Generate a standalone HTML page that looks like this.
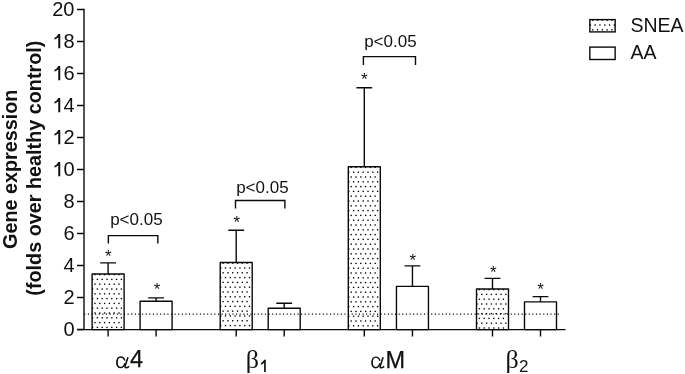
<!DOCTYPE html>
<html><head><meta charset="utf-8"><style>
html,body{margin:0;padding:0;background:#fff;}
body{width:685px;height:374px;overflow:hidden;}
svg{display:block;will-change:transform;}
text{font-family:"Liberation Sans",sans-serif;fill:#111;}
.yl{font-size:20px;}
.st{font-size:17px;}
.pv{font-size:17px;}
.lg{font-size:19.5px;}
.xs{font-size:23.5px;stroke:#111;stroke-width:0.25px;}
.gr{font-family:"Liberation Serif",serif;font-size:26px;}
.sb{font-size:17px;}
.yt{font-size:20px;font-weight:bold;}
</style></head><body>
<svg width="685" height="374" viewBox="0 0 685 374">
<rect x="92.1" y="274.00" width="32" height="55.60" fill="#fff"/>
<g fill="#000"><rect x="94.33" y="273.93" width="1.35" height="1.35"/><rect x="99.12" y="273.93" width="1.35" height="1.35"/><rect x="103.92" y="273.93" width="1.35" height="1.35"/><rect x="108.72" y="273.93" width="1.35" height="1.35"/><rect x="113.52" y="273.93" width="1.35" height="1.35"/><rect x="118.32" y="273.93" width="1.35" height="1.35"/><rect x="91.92" y="278.73" width="1.35" height="1.35"/><rect x="96.72" y="278.73" width="1.35" height="1.35"/><rect x="101.52" y="278.73" width="1.35" height="1.35"/><rect x="106.32" y="278.73" width="1.35" height="1.35"/><rect x="111.12" y="278.73" width="1.35" height="1.35"/><rect x="115.92" y="278.73" width="1.35" height="1.35"/><rect x="120.72" y="278.73" width="1.35" height="1.35"/><rect x="94.33" y="283.53" width="1.35" height="1.35"/><rect x="99.12" y="283.53" width="1.35" height="1.35"/><rect x="103.92" y="283.53" width="1.35" height="1.35"/><rect x="108.72" y="283.53" width="1.35" height="1.35"/><rect x="113.52" y="283.53" width="1.35" height="1.35"/><rect x="118.32" y="283.53" width="1.35" height="1.35"/><rect x="91.92" y="288.33" width="1.35" height="1.35"/><rect x="96.72" y="288.33" width="1.35" height="1.35"/><rect x="101.52" y="288.33" width="1.35" height="1.35"/><rect x="106.32" y="288.33" width="1.35" height="1.35"/><rect x="111.12" y="288.33" width="1.35" height="1.35"/><rect x="115.92" y="288.33" width="1.35" height="1.35"/><rect x="120.72" y="288.33" width="1.35" height="1.35"/><rect x="94.33" y="293.13" width="1.35" height="1.35"/><rect x="99.12" y="293.13" width="1.35" height="1.35"/><rect x="103.92" y="293.13" width="1.35" height="1.35"/><rect x="108.72" y="293.13" width="1.35" height="1.35"/><rect x="113.52" y="293.13" width="1.35" height="1.35"/><rect x="118.32" y="293.13" width="1.35" height="1.35"/><rect x="91.92" y="297.93" width="1.35" height="1.35"/><rect x="96.72" y="297.93" width="1.35" height="1.35"/><rect x="101.52" y="297.93" width="1.35" height="1.35"/><rect x="106.32" y="297.93" width="1.35" height="1.35"/><rect x="111.12" y="297.93" width="1.35" height="1.35"/><rect x="115.92" y="297.93" width="1.35" height="1.35"/><rect x="120.72" y="297.93" width="1.35" height="1.35"/><rect x="94.33" y="302.73" width="1.35" height="1.35"/><rect x="99.12" y="302.73" width="1.35" height="1.35"/><rect x="103.92" y="302.73" width="1.35" height="1.35"/><rect x="108.72" y="302.73" width="1.35" height="1.35"/><rect x="113.52" y="302.73" width="1.35" height="1.35"/><rect x="118.32" y="302.73" width="1.35" height="1.35"/><rect x="91.92" y="307.53" width="1.35" height="1.35"/><rect x="96.72" y="307.53" width="1.35" height="1.35"/><rect x="101.52" y="307.53" width="1.35" height="1.35"/><rect x="106.32" y="307.53" width="1.35" height="1.35"/><rect x="111.12" y="307.53" width="1.35" height="1.35"/><rect x="115.92" y="307.53" width="1.35" height="1.35"/><rect x="120.72" y="307.53" width="1.35" height="1.35"/><rect x="94.33" y="312.33" width="1.35" height="1.35"/><rect x="99.12" y="312.33" width="1.35" height="1.35"/><rect x="103.92" y="312.33" width="1.35" height="1.35"/><rect x="108.72" y="312.33" width="1.35" height="1.35"/><rect x="113.52" y="312.33" width="1.35" height="1.35"/><rect x="118.32" y="312.33" width="1.35" height="1.35"/><rect x="91.92" y="317.13" width="1.35" height="1.35"/><rect x="96.72" y="317.13" width="1.35" height="1.35"/><rect x="101.52" y="317.13" width="1.35" height="1.35"/><rect x="106.32" y="317.13" width="1.35" height="1.35"/><rect x="111.12" y="317.13" width="1.35" height="1.35"/><rect x="115.92" y="317.13" width="1.35" height="1.35"/><rect x="120.72" y="317.13" width="1.35" height="1.35"/><rect x="94.33" y="321.93" width="1.35" height="1.35"/><rect x="99.12" y="321.93" width="1.35" height="1.35"/><rect x="103.92" y="321.93" width="1.35" height="1.35"/><rect x="108.72" y="321.93" width="1.35" height="1.35"/><rect x="113.52" y="321.93" width="1.35" height="1.35"/><rect x="118.32" y="321.93" width="1.35" height="1.35"/><rect x="91.92" y="326.73" width="1.35" height="1.35"/><rect x="96.72" y="326.73" width="1.35" height="1.35"/><rect x="101.52" y="326.73" width="1.35" height="1.35"/><rect x="106.32" y="326.73" width="1.35" height="1.35"/><rect x="111.12" y="326.73" width="1.35" height="1.35"/><rect x="115.92" y="326.73" width="1.35" height="1.35"/><rect x="120.72" y="326.73" width="1.35" height="1.35"/></g>
<rect x="92.1" y="274.00" width="32" height="55.60" fill="none" stroke="#0a0a0a" stroke-width="1.4" stroke-linejoin="round"/>
<path d="M108.1 274.00V262.90M100.19999999999999 262.90H116.0" stroke="#0a0a0a" stroke-width="1.4" fill="none"/>
<path d="M108.1 329.6V336.5" stroke="#0a0a0a" stroke-width="1.4"/>
<rect x="140.1" y="301.20" width="32" height="28.40" fill="#fff"/>
<rect x="140.1" y="301.20" width="32" height="28.40" fill="none" stroke="#0a0a0a" stroke-width="1.4" stroke-linejoin="round"/>
<path d="M156.1 301.20V297.90M148.2 297.90H164.0" stroke="#0a0a0a" stroke-width="1.4" fill="none"/>
<path d="M156.1 329.6V336.5" stroke="#0a0a0a" stroke-width="1.4"/>
<rect x="220.2" y="262.55" width="32" height="67.05" fill="#fff"/>
<g fill="#000"><rect x="222.42" y="262.48" width="1.35" height="1.35"/><rect x="227.22" y="262.48" width="1.35" height="1.35"/><rect x="232.03" y="262.48" width="1.35" height="1.35"/><rect x="236.83" y="262.48" width="1.35" height="1.35"/><rect x="241.63" y="262.48" width="1.35" height="1.35"/><rect x="246.43" y="262.48" width="1.35" height="1.35"/><rect x="220.02" y="267.28" width="1.35" height="1.35"/><rect x="224.82" y="267.28" width="1.35" height="1.35"/><rect x="229.62" y="267.28" width="1.35" height="1.35"/><rect x="234.43" y="267.28" width="1.35" height="1.35"/><rect x="239.23" y="267.28" width="1.35" height="1.35"/><rect x="244.03" y="267.28" width="1.35" height="1.35"/><rect x="248.83" y="267.28" width="1.35" height="1.35"/><rect x="222.42" y="272.08" width="1.35" height="1.35"/><rect x="227.22" y="272.08" width="1.35" height="1.35"/><rect x="232.03" y="272.08" width="1.35" height="1.35"/><rect x="236.83" y="272.08" width="1.35" height="1.35"/><rect x="241.63" y="272.08" width="1.35" height="1.35"/><rect x="246.43" y="272.08" width="1.35" height="1.35"/><rect x="220.02" y="276.88" width="1.35" height="1.35"/><rect x="224.82" y="276.88" width="1.35" height="1.35"/><rect x="229.62" y="276.88" width="1.35" height="1.35"/><rect x="234.43" y="276.88" width="1.35" height="1.35"/><rect x="239.23" y="276.88" width="1.35" height="1.35"/><rect x="244.03" y="276.88" width="1.35" height="1.35"/><rect x="248.83" y="276.88" width="1.35" height="1.35"/><rect x="222.42" y="281.68" width="1.35" height="1.35"/><rect x="227.22" y="281.68" width="1.35" height="1.35"/><rect x="232.03" y="281.68" width="1.35" height="1.35"/><rect x="236.83" y="281.68" width="1.35" height="1.35"/><rect x="241.63" y="281.68" width="1.35" height="1.35"/><rect x="246.43" y="281.68" width="1.35" height="1.35"/><rect x="220.02" y="286.48" width="1.35" height="1.35"/><rect x="224.82" y="286.48" width="1.35" height="1.35"/><rect x="229.62" y="286.48" width="1.35" height="1.35"/><rect x="234.43" y="286.48" width="1.35" height="1.35"/><rect x="239.23" y="286.48" width="1.35" height="1.35"/><rect x="244.03" y="286.48" width="1.35" height="1.35"/><rect x="248.83" y="286.48" width="1.35" height="1.35"/><rect x="222.42" y="291.28" width="1.35" height="1.35"/><rect x="227.22" y="291.28" width="1.35" height="1.35"/><rect x="232.03" y="291.28" width="1.35" height="1.35"/><rect x="236.83" y="291.28" width="1.35" height="1.35"/><rect x="241.63" y="291.28" width="1.35" height="1.35"/><rect x="246.43" y="291.28" width="1.35" height="1.35"/><rect x="220.02" y="296.08" width="1.35" height="1.35"/><rect x="224.82" y="296.08" width="1.35" height="1.35"/><rect x="229.62" y="296.08" width="1.35" height="1.35"/><rect x="234.43" y="296.08" width="1.35" height="1.35"/><rect x="239.23" y="296.08" width="1.35" height="1.35"/><rect x="244.03" y="296.08" width="1.35" height="1.35"/><rect x="248.83" y="296.08" width="1.35" height="1.35"/><rect x="222.42" y="300.88" width="1.35" height="1.35"/><rect x="227.22" y="300.88" width="1.35" height="1.35"/><rect x="232.03" y="300.88" width="1.35" height="1.35"/><rect x="236.83" y="300.88" width="1.35" height="1.35"/><rect x="241.63" y="300.88" width="1.35" height="1.35"/><rect x="246.43" y="300.88" width="1.35" height="1.35"/><rect x="220.02" y="305.68" width="1.35" height="1.35"/><rect x="224.82" y="305.68" width="1.35" height="1.35"/><rect x="229.62" y="305.68" width="1.35" height="1.35"/><rect x="234.43" y="305.68" width="1.35" height="1.35"/><rect x="239.23" y="305.68" width="1.35" height="1.35"/><rect x="244.03" y="305.68" width="1.35" height="1.35"/><rect x="248.83" y="305.68" width="1.35" height="1.35"/><rect x="222.42" y="310.48" width="1.35" height="1.35"/><rect x="227.22" y="310.48" width="1.35" height="1.35"/><rect x="232.03" y="310.48" width="1.35" height="1.35"/><rect x="236.83" y="310.48" width="1.35" height="1.35"/><rect x="241.63" y="310.48" width="1.35" height="1.35"/><rect x="246.43" y="310.48" width="1.35" height="1.35"/><rect x="220.02" y="315.28" width="1.35" height="1.35"/><rect x="224.82" y="315.28" width="1.35" height="1.35"/><rect x="229.62" y="315.28" width="1.35" height="1.35"/><rect x="234.43" y="315.28" width="1.35" height="1.35"/><rect x="239.23" y="315.28" width="1.35" height="1.35"/><rect x="244.03" y="315.28" width="1.35" height="1.35"/><rect x="248.83" y="315.28" width="1.35" height="1.35"/><rect x="222.42" y="320.08" width="1.35" height="1.35"/><rect x="227.22" y="320.08" width="1.35" height="1.35"/><rect x="232.03" y="320.08" width="1.35" height="1.35"/><rect x="236.83" y="320.08" width="1.35" height="1.35"/><rect x="241.63" y="320.08" width="1.35" height="1.35"/><rect x="246.43" y="320.08" width="1.35" height="1.35"/><rect x="220.02" y="324.88" width="1.35" height="1.35"/><rect x="224.82" y="324.88" width="1.35" height="1.35"/><rect x="229.62" y="324.88" width="1.35" height="1.35"/><rect x="234.43" y="324.88" width="1.35" height="1.35"/><rect x="239.23" y="324.88" width="1.35" height="1.35"/><rect x="244.03" y="324.88" width="1.35" height="1.35"/><rect x="248.83" y="324.88" width="1.35" height="1.35"/></g>
<rect x="220.2" y="262.55" width="32" height="67.05" fill="none" stroke="#0a0a0a" stroke-width="1.4" stroke-linejoin="round"/>
<path d="M236.2 262.55V230.30M228.29999999999998 230.30H244.1" stroke="#0a0a0a" stroke-width="1.4" fill="none"/>
<path d="M236.2 329.6V336.5" stroke="#0a0a0a" stroke-width="1.4"/>
<rect x="268.2" y="308.30" width="32" height="21.30" fill="#fff"/>
<rect x="268.2" y="308.30" width="32" height="21.30" fill="none" stroke="#0a0a0a" stroke-width="1.4" stroke-linejoin="round"/>
<path d="M284.2 308.30V303.20M276.3 303.20H292.09999999999997" stroke="#0a0a0a" stroke-width="1.4" fill="none"/>
<path d="M284.2 329.6V336.5" stroke="#0a0a0a" stroke-width="1.4"/>
<rect x="348.3" y="166.80" width="32" height="162.80" fill="#fff"/>
<g fill="#000"><rect x="350.52" y="166.72" width="1.35" height="1.35"/><rect x="355.32" y="166.72" width="1.35" height="1.35"/><rect x="360.12" y="166.72" width="1.35" height="1.35"/><rect x="364.93" y="166.72" width="1.35" height="1.35"/><rect x="369.73" y="166.72" width="1.35" height="1.35"/><rect x="374.53" y="166.72" width="1.35" height="1.35"/><rect x="348.12" y="171.53" width="1.35" height="1.35"/><rect x="352.93" y="171.53" width="1.35" height="1.35"/><rect x="357.73" y="171.53" width="1.35" height="1.35"/><rect x="362.53" y="171.53" width="1.35" height="1.35"/><rect x="367.33" y="171.53" width="1.35" height="1.35"/><rect x="372.13" y="171.53" width="1.35" height="1.35"/><rect x="376.93" y="171.53" width="1.35" height="1.35"/><rect x="350.52" y="176.33" width="1.35" height="1.35"/><rect x="355.32" y="176.33" width="1.35" height="1.35"/><rect x="360.12" y="176.33" width="1.35" height="1.35"/><rect x="364.93" y="176.33" width="1.35" height="1.35"/><rect x="369.73" y="176.33" width="1.35" height="1.35"/><rect x="374.53" y="176.33" width="1.35" height="1.35"/><rect x="348.12" y="181.13" width="1.35" height="1.35"/><rect x="352.93" y="181.13" width="1.35" height="1.35"/><rect x="357.73" y="181.13" width="1.35" height="1.35"/><rect x="362.53" y="181.13" width="1.35" height="1.35"/><rect x="367.33" y="181.13" width="1.35" height="1.35"/><rect x="372.13" y="181.13" width="1.35" height="1.35"/><rect x="376.93" y="181.13" width="1.35" height="1.35"/><rect x="350.52" y="185.93" width="1.35" height="1.35"/><rect x="355.32" y="185.93" width="1.35" height="1.35"/><rect x="360.12" y="185.93" width="1.35" height="1.35"/><rect x="364.93" y="185.93" width="1.35" height="1.35"/><rect x="369.73" y="185.93" width="1.35" height="1.35"/><rect x="374.53" y="185.93" width="1.35" height="1.35"/><rect x="348.12" y="190.73" width="1.35" height="1.35"/><rect x="352.93" y="190.73" width="1.35" height="1.35"/><rect x="357.73" y="190.73" width="1.35" height="1.35"/><rect x="362.53" y="190.73" width="1.35" height="1.35"/><rect x="367.33" y="190.73" width="1.35" height="1.35"/><rect x="372.13" y="190.73" width="1.35" height="1.35"/><rect x="376.93" y="190.73" width="1.35" height="1.35"/><rect x="350.52" y="195.53" width="1.35" height="1.35"/><rect x="355.32" y="195.53" width="1.35" height="1.35"/><rect x="360.12" y="195.53" width="1.35" height="1.35"/><rect x="364.93" y="195.53" width="1.35" height="1.35"/><rect x="369.73" y="195.53" width="1.35" height="1.35"/><rect x="374.53" y="195.53" width="1.35" height="1.35"/><rect x="348.12" y="200.33" width="1.35" height="1.35"/><rect x="352.93" y="200.33" width="1.35" height="1.35"/><rect x="357.73" y="200.33" width="1.35" height="1.35"/><rect x="362.53" y="200.33" width="1.35" height="1.35"/><rect x="367.33" y="200.33" width="1.35" height="1.35"/><rect x="372.13" y="200.33" width="1.35" height="1.35"/><rect x="376.93" y="200.33" width="1.35" height="1.35"/><rect x="350.52" y="205.13" width="1.35" height="1.35"/><rect x="355.32" y="205.13" width="1.35" height="1.35"/><rect x="360.12" y="205.13" width="1.35" height="1.35"/><rect x="364.93" y="205.13" width="1.35" height="1.35"/><rect x="369.73" y="205.13" width="1.35" height="1.35"/><rect x="374.53" y="205.13" width="1.35" height="1.35"/><rect x="348.12" y="209.93" width="1.35" height="1.35"/><rect x="352.93" y="209.93" width="1.35" height="1.35"/><rect x="357.73" y="209.93" width="1.35" height="1.35"/><rect x="362.53" y="209.93" width="1.35" height="1.35"/><rect x="367.33" y="209.93" width="1.35" height="1.35"/><rect x="372.13" y="209.93" width="1.35" height="1.35"/><rect x="376.93" y="209.93" width="1.35" height="1.35"/><rect x="350.52" y="214.73" width="1.35" height="1.35"/><rect x="355.32" y="214.73" width="1.35" height="1.35"/><rect x="360.12" y="214.73" width="1.35" height="1.35"/><rect x="364.93" y="214.73" width="1.35" height="1.35"/><rect x="369.73" y="214.73" width="1.35" height="1.35"/><rect x="374.53" y="214.73" width="1.35" height="1.35"/><rect x="348.12" y="219.53" width="1.35" height="1.35"/><rect x="352.93" y="219.53" width="1.35" height="1.35"/><rect x="357.73" y="219.53" width="1.35" height="1.35"/><rect x="362.53" y="219.53" width="1.35" height="1.35"/><rect x="367.33" y="219.53" width="1.35" height="1.35"/><rect x="372.13" y="219.53" width="1.35" height="1.35"/><rect x="376.93" y="219.53" width="1.35" height="1.35"/><rect x="350.52" y="224.33" width="1.35" height="1.35"/><rect x="355.32" y="224.33" width="1.35" height="1.35"/><rect x="360.12" y="224.33" width="1.35" height="1.35"/><rect x="364.93" y="224.33" width="1.35" height="1.35"/><rect x="369.73" y="224.33" width="1.35" height="1.35"/><rect x="374.53" y="224.33" width="1.35" height="1.35"/><rect x="348.12" y="229.13" width="1.35" height="1.35"/><rect x="352.93" y="229.13" width="1.35" height="1.35"/><rect x="357.73" y="229.13" width="1.35" height="1.35"/><rect x="362.53" y="229.13" width="1.35" height="1.35"/><rect x="367.33" y="229.13" width="1.35" height="1.35"/><rect x="372.13" y="229.13" width="1.35" height="1.35"/><rect x="376.93" y="229.13" width="1.35" height="1.35"/><rect x="350.52" y="233.93" width="1.35" height="1.35"/><rect x="355.32" y="233.93" width="1.35" height="1.35"/><rect x="360.12" y="233.93" width="1.35" height="1.35"/><rect x="364.93" y="233.93" width="1.35" height="1.35"/><rect x="369.73" y="233.93" width="1.35" height="1.35"/><rect x="374.53" y="233.93" width="1.35" height="1.35"/><rect x="348.12" y="238.73" width="1.35" height="1.35"/><rect x="352.93" y="238.73" width="1.35" height="1.35"/><rect x="357.73" y="238.73" width="1.35" height="1.35"/><rect x="362.53" y="238.73" width="1.35" height="1.35"/><rect x="367.33" y="238.73" width="1.35" height="1.35"/><rect x="372.13" y="238.73" width="1.35" height="1.35"/><rect x="376.93" y="238.73" width="1.35" height="1.35"/><rect x="350.52" y="243.53" width="1.35" height="1.35"/><rect x="355.32" y="243.53" width="1.35" height="1.35"/><rect x="360.12" y="243.53" width="1.35" height="1.35"/><rect x="364.93" y="243.53" width="1.35" height="1.35"/><rect x="369.73" y="243.53" width="1.35" height="1.35"/><rect x="374.53" y="243.53" width="1.35" height="1.35"/><rect x="348.12" y="248.33" width="1.35" height="1.35"/><rect x="352.93" y="248.33" width="1.35" height="1.35"/><rect x="357.73" y="248.33" width="1.35" height="1.35"/><rect x="362.53" y="248.33" width="1.35" height="1.35"/><rect x="367.33" y="248.33" width="1.35" height="1.35"/><rect x="372.13" y="248.33" width="1.35" height="1.35"/><rect x="376.93" y="248.33" width="1.35" height="1.35"/><rect x="350.52" y="253.13" width="1.35" height="1.35"/><rect x="355.32" y="253.13" width="1.35" height="1.35"/><rect x="360.12" y="253.13" width="1.35" height="1.35"/><rect x="364.93" y="253.13" width="1.35" height="1.35"/><rect x="369.73" y="253.13" width="1.35" height="1.35"/><rect x="374.53" y="253.13" width="1.35" height="1.35"/><rect x="348.12" y="257.93" width="1.35" height="1.35"/><rect x="352.93" y="257.93" width="1.35" height="1.35"/><rect x="357.73" y="257.93" width="1.35" height="1.35"/><rect x="362.53" y="257.93" width="1.35" height="1.35"/><rect x="367.33" y="257.93" width="1.35" height="1.35"/><rect x="372.13" y="257.93" width="1.35" height="1.35"/><rect x="376.93" y="257.93" width="1.35" height="1.35"/><rect x="350.52" y="262.73" width="1.35" height="1.35"/><rect x="355.32" y="262.73" width="1.35" height="1.35"/><rect x="360.12" y="262.73" width="1.35" height="1.35"/><rect x="364.93" y="262.73" width="1.35" height="1.35"/><rect x="369.73" y="262.73" width="1.35" height="1.35"/><rect x="374.53" y="262.73" width="1.35" height="1.35"/><rect x="348.12" y="267.53" width="1.35" height="1.35"/><rect x="352.93" y="267.53" width="1.35" height="1.35"/><rect x="357.73" y="267.53" width="1.35" height="1.35"/><rect x="362.53" y="267.53" width="1.35" height="1.35"/><rect x="367.33" y="267.53" width="1.35" height="1.35"/><rect x="372.13" y="267.53" width="1.35" height="1.35"/><rect x="376.93" y="267.53" width="1.35" height="1.35"/><rect x="350.52" y="272.33" width="1.35" height="1.35"/><rect x="355.32" y="272.33" width="1.35" height="1.35"/><rect x="360.12" y="272.33" width="1.35" height="1.35"/><rect x="364.93" y="272.33" width="1.35" height="1.35"/><rect x="369.73" y="272.33" width="1.35" height="1.35"/><rect x="374.53" y="272.33" width="1.35" height="1.35"/><rect x="348.12" y="277.13" width="1.35" height="1.35"/><rect x="352.93" y="277.13" width="1.35" height="1.35"/><rect x="357.73" y="277.13" width="1.35" height="1.35"/><rect x="362.53" y="277.13" width="1.35" height="1.35"/><rect x="367.33" y="277.13" width="1.35" height="1.35"/><rect x="372.13" y="277.13" width="1.35" height="1.35"/><rect x="376.93" y="277.13" width="1.35" height="1.35"/><rect x="350.52" y="281.93" width="1.35" height="1.35"/><rect x="355.32" y="281.93" width="1.35" height="1.35"/><rect x="360.12" y="281.93" width="1.35" height="1.35"/><rect x="364.93" y="281.93" width="1.35" height="1.35"/><rect x="369.73" y="281.93" width="1.35" height="1.35"/><rect x="374.53" y="281.93" width="1.35" height="1.35"/><rect x="348.12" y="286.73" width="1.35" height="1.35"/><rect x="352.93" y="286.73" width="1.35" height="1.35"/><rect x="357.73" y="286.73" width="1.35" height="1.35"/><rect x="362.53" y="286.73" width="1.35" height="1.35"/><rect x="367.33" y="286.73" width="1.35" height="1.35"/><rect x="372.13" y="286.73" width="1.35" height="1.35"/><rect x="376.93" y="286.73" width="1.35" height="1.35"/><rect x="350.52" y="291.53" width="1.35" height="1.35"/><rect x="355.32" y="291.53" width="1.35" height="1.35"/><rect x="360.12" y="291.53" width="1.35" height="1.35"/><rect x="364.93" y="291.53" width="1.35" height="1.35"/><rect x="369.73" y="291.53" width="1.35" height="1.35"/><rect x="374.53" y="291.53" width="1.35" height="1.35"/><rect x="348.12" y="296.33" width="1.35" height="1.35"/><rect x="352.93" y="296.33" width="1.35" height="1.35"/><rect x="357.73" y="296.33" width="1.35" height="1.35"/><rect x="362.53" y="296.33" width="1.35" height="1.35"/><rect x="367.33" y="296.33" width="1.35" height="1.35"/><rect x="372.13" y="296.33" width="1.35" height="1.35"/><rect x="376.93" y="296.33" width="1.35" height="1.35"/><rect x="350.52" y="301.13" width="1.35" height="1.35"/><rect x="355.32" y="301.13" width="1.35" height="1.35"/><rect x="360.12" y="301.13" width="1.35" height="1.35"/><rect x="364.93" y="301.13" width="1.35" height="1.35"/><rect x="369.73" y="301.13" width="1.35" height="1.35"/><rect x="374.53" y="301.13" width="1.35" height="1.35"/><rect x="348.12" y="305.93" width="1.35" height="1.35"/><rect x="352.93" y="305.93" width="1.35" height="1.35"/><rect x="357.73" y="305.93" width="1.35" height="1.35"/><rect x="362.53" y="305.93" width="1.35" height="1.35"/><rect x="367.33" y="305.93" width="1.35" height="1.35"/><rect x="372.13" y="305.93" width="1.35" height="1.35"/><rect x="376.93" y="305.93" width="1.35" height="1.35"/><rect x="350.52" y="310.73" width="1.35" height="1.35"/><rect x="355.32" y="310.73" width="1.35" height="1.35"/><rect x="360.12" y="310.73" width="1.35" height="1.35"/><rect x="364.93" y="310.73" width="1.35" height="1.35"/><rect x="369.73" y="310.73" width="1.35" height="1.35"/><rect x="374.53" y="310.73" width="1.35" height="1.35"/><rect x="348.12" y="315.53" width="1.35" height="1.35"/><rect x="352.93" y="315.53" width="1.35" height="1.35"/><rect x="357.73" y="315.53" width="1.35" height="1.35"/><rect x="362.53" y="315.53" width="1.35" height="1.35"/><rect x="367.33" y="315.53" width="1.35" height="1.35"/><rect x="372.13" y="315.53" width="1.35" height="1.35"/><rect x="376.93" y="315.53" width="1.35" height="1.35"/><rect x="350.52" y="320.33" width="1.35" height="1.35"/><rect x="355.32" y="320.33" width="1.35" height="1.35"/><rect x="360.12" y="320.33" width="1.35" height="1.35"/><rect x="364.93" y="320.33" width="1.35" height="1.35"/><rect x="369.73" y="320.33" width="1.35" height="1.35"/><rect x="374.53" y="320.33" width="1.35" height="1.35"/><rect x="348.12" y="325.13" width="1.35" height="1.35"/><rect x="352.93" y="325.13" width="1.35" height="1.35"/><rect x="357.73" y="325.13" width="1.35" height="1.35"/><rect x="362.53" y="325.13" width="1.35" height="1.35"/><rect x="367.33" y="325.13" width="1.35" height="1.35"/><rect x="372.13" y="325.13" width="1.35" height="1.35"/><rect x="376.93" y="325.13" width="1.35" height="1.35"/></g>
<rect x="348.3" y="166.80" width="32" height="162.80" fill="none" stroke="#0a0a0a" stroke-width="1.4" stroke-linejoin="round"/>
<path d="M364.3 166.80V87.75M356.40000000000003 87.75H372.2" stroke="#0a0a0a" stroke-width="1.4" fill="none"/>
<path d="M364.3 329.6V336.5" stroke="#0a0a0a" stroke-width="1.4"/>
<rect x="396.45" y="286.40" width="32" height="43.20" fill="#fff"/>
<rect x="396.45" y="286.40" width="32" height="43.20" fill="none" stroke="#0a0a0a" stroke-width="1.4" stroke-linejoin="round"/>
<path d="M412.45 286.40V265.85M404.55 265.85H420.34999999999997" stroke="#0a0a0a" stroke-width="1.4" fill="none"/>
<path d="M412.45 329.6V336.5" stroke="#0a0a0a" stroke-width="1.4"/>
<rect x="476.5" y="289.00" width="32" height="40.60" fill="#fff"/>
<g fill="#000"><rect x="478.72" y="288.93" width="1.35" height="1.35"/><rect x="483.52" y="288.93" width="1.35" height="1.35"/><rect x="488.32" y="288.93" width="1.35" height="1.35"/><rect x="493.12" y="288.93" width="1.35" height="1.35"/><rect x="497.93" y="288.93" width="1.35" height="1.35"/><rect x="502.73" y="288.93" width="1.35" height="1.35"/><rect x="476.32" y="293.73" width="1.35" height="1.35"/><rect x="481.12" y="293.73" width="1.35" height="1.35"/><rect x="485.93" y="293.73" width="1.35" height="1.35"/><rect x="490.73" y="293.73" width="1.35" height="1.35"/><rect x="495.53" y="293.73" width="1.35" height="1.35"/><rect x="500.33" y="293.73" width="1.35" height="1.35"/><rect x="505.13" y="293.73" width="1.35" height="1.35"/><rect x="478.72" y="298.53" width="1.35" height="1.35"/><rect x="483.52" y="298.53" width="1.35" height="1.35"/><rect x="488.32" y="298.53" width="1.35" height="1.35"/><rect x="493.12" y="298.53" width="1.35" height="1.35"/><rect x="497.93" y="298.53" width="1.35" height="1.35"/><rect x="502.73" y="298.53" width="1.35" height="1.35"/><rect x="476.32" y="303.33" width="1.35" height="1.35"/><rect x="481.12" y="303.33" width="1.35" height="1.35"/><rect x="485.93" y="303.33" width="1.35" height="1.35"/><rect x="490.73" y="303.33" width="1.35" height="1.35"/><rect x="495.53" y="303.33" width="1.35" height="1.35"/><rect x="500.33" y="303.33" width="1.35" height="1.35"/><rect x="505.13" y="303.33" width="1.35" height="1.35"/><rect x="478.72" y="308.13" width="1.35" height="1.35"/><rect x="483.52" y="308.13" width="1.35" height="1.35"/><rect x="488.32" y="308.13" width="1.35" height="1.35"/><rect x="493.12" y="308.13" width="1.35" height="1.35"/><rect x="497.93" y="308.13" width="1.35" height="1.35"/><rect x="502.73" y="308.13" width="1.35" height="1.35"/><rect x="476.32" y="312.93" width="1.35" height="1.35"/><rect x="481.12" y="312.93" width="1.35" height="1.35"/><rect x="485.93" y="312.93" width="1.35" height="1.35"/><rect x="490.73" y="312.93" width="1.35" height="1.35"/><rect x="495.53" y="312.93" width="1.35" height="1.35"/><rect x="500.33" y="312.93" width="1.35" height="1.35"/><rect x="505.13" y="312.93" width="1.35" height="1.35"/><rect x="478.72" y="317.73" width="1.35" height="1.35"/><rect x="483.52" y="317.73" width="1.35" height="1.35"/><rect x="488.32" y="317.73" width="1.35" height="1.35"/><rect x="493.12" y="317.73" width="1.35" height="1.35"/><rect x="497.93" y="317.73" width="1.35" height="1.35"/><rect x="502.73" y="317.73" width="1.35" height="1.35"/><rect x="476.32" y="322.53" width="1.35" height="1.35"/><rect x="481.12" y="322.53" width="1.35" height="1.35"/><rect x="485.93" y="322.53" width="1.35" height="1.35"/><rect x="490.73" y="322.53" width="1.35" height="1.35"/><rect x="495.53" y="322.53" width="1.35" height="1.35"/><rect x="500.33" y="322.53" width="1.35" height="1.35"/><rect x="505.13" y="322.53" width="1.35" height="1.35"/><rect x="478.72" y="327.33" width="1.35" height="1.35"/><rect x="483.52" y="327.33" width="1.35" height="1.35"/><rect x="488.32" y="327.33" width="1.35" height="1.35"/><rect x="493.12" y="327.33" width="1.35" height="1.35"/><rect x="497.93" y="327.33" width="1.35" height="1.35"/><rect x="502.73" y="327.33" width="1.35" height="1.35"/></g>
<rect x="476.5" y="289.00" width="32" height="40.60" fill="none" stroke="#0a0a0a" stroke-width="1.4" stroke-linejoin="round"/>
<path d="M492.5 289.00V278.40M484.6 278.40H500.4" stroke="#0a0a0a" stroke-width="1.4" fill="none"/>
<path d="M492.5 329.6V336.5" stroke="#0a0a0a" stroke-width="1.4"/>
<rect x="524.5" y="301.90" width="32" height="27.70" fill="#fff"/>
<rect x="524.5" y="301.90" width="32" height="27.70" fill="none" stroke="#0a0a0a" stroke-width="1.4" stroke-linejoin="round"/>
<path d="M540.5 301.90V296.65M532.6 296.65H548.4" stroke="#0a0a0a" stroke-width="1.4" fill="none"/>
<path d="M540.5 329.6V336.5" stroke="#0a0a0a" stroke-width="1.4"/>
<path d="M84.24 314.2H559.2" stroke="#000" stroke-width="1.2" stroke-dasharray="1.1 2.514" />
<path d="M84.0 8.8V329.6M77 329.6H565.5" stroke="#0a0a0a" stroke-width="1.4" fill="none" stroke-linejoin="round"/>
<path d="M77 329.50H84.0M77 297.50H84.0M77 265.50H84.0M77 233.50H84.0M77 201.50H84.0M77 169.50H84.0M77 137.50H84.0M77 105.50H84.0M77 73.50H84.0M77 41.50H84.0M77 9.50H84.0" stroke="#0a0a0a" stroke-width="1.4"/>
<text x="74.5" y="336.20" text-anchor="end" class="yl">0</text>
<text x="74.5" y="304.20" text-anchor="end" class="yl">2</text>
<text x="74.5" y="272.20" text-anchor="end" class="yl">4</text>
<text x="74.5" y="240.20" text-anchor="end" class="yl">6</text>
<text x="74.5" y="208.20" text-anchor="end" class="yl">8</text>
<text x="74.5" y="176.20" text-anchor="end" class="yl">0</text>
<path d="M58.26 161.88L60.26 161.88L60.26 176.20L58.26 176.20L58.26 165.20C57.26 166.40 55.66 167.20 54.46 167.60L54.46 165.80C56.06 165.10 57.46 163.80 58.26 161.88Z" fill="#111"/>
<text x="74.5" y="144.20" text-anchor="end" class="yl">2</text>
<path d="M58.26 129.88L60.26 129.88L60.26 144.20L58.26 144.20L58.26 133.20C57.26 134.40 55.66 135.20 54.46 135.60L54.46 133.80C56.06 133.10 57.46 131.80 58.26 129.88Z" fill="#111"/>
<text x="74.5" y="112.20" text-anchor="end" class="yl">4</text>
<path d="M58.26 97.88L60.26 97.88L60.26 112.20L58.26 112.20L58.26 101.20C57.26 102.40 55.66 103.20 54.46 103.60L54.46 101.80C56.06 101.10 57.46 99.80 58.26 97.88Z" fill="#111"/>
<text x="74.5" y="80.20" text-anchor="end" class="yl">6</text>
<path d="M58.26 65.88L60.26 65.88L60.26 80.20L58.26 80.20L58.26 69.20C57.26 70.40 55.66 71.20 54.46 71.60L54.46 69.80C56.06 69.10 57.46 67.80 58.26 65.88Z" fill="#111"/>
<text x="74.5" y="48.20" text-anchor="end" class="yl">8</text>
<path d="M58.26 33.88L60.26 33.88L60.26 48.20L58.26 48.20L58.26 37.20C57.26 38.40 55.66 39.20 54.46 39.60L54.46 37.80C56.06 37.10 57.46 35.80 58.26 33.88Z" fill="#111"/>
<text x="74.5" y="16.20" text-anchor="end" class="yl">20</text>
<text x="108.3" y="262.0" text-anchor="middle" class="st">*</text>
<text x="157.0" y="295.0" text-anchor="middle" class="st">*</text>
<text x="236.9" y="227.6" text-anchor="middle" class="st">*</text>
<text x="364.3" y="85.3" text-anchor="middle" class="st">*</text>
<text x="412.7" y="266.0" text-anchor="middle" class="st">*</text>
<text x="493.4" y="278.1" text-anchor="middle" class="st">*</text>
<text x="540.6" y="295.0" text-anchor="middle" class="st">*</text>
<path d="M108.35 243.4V235.6H157.85V243.4" stroke="#0a0a0a" stroke-width="1.4" fill="none"/>
<text x="136.4" y="225.1" text-anchor="middle" class="pv">p&lt;0.05</text>
<path d="M235.5 208.5V200.55H284.9V208.5" stroke="#0a0a0a" stroke-width="1.4" fill="none"/>
<text x="262.4" y="192.6" text-anchor="middle" class="pv">p&lt;0.05</text>
<path d="M363.4 65.0V56.6H415.5V65.0" stroke="#0a0a0a" stroke-width="1.4" fill="none"/>
<text x="390.4" y="47.1" text-anchor="middle" class="pv">p&lt;0.05</text>
<rect x="589.85" y="19.6" width="25.3" height="12.3" fill="#fff" stroke="#0a0a0a" stroke-width="1.4"/>
<g fill="#000"><rect x="592.08" y="19.53" width="1.35" height="1.35"/><rect x="596.88" y="19.53" width="1.35" height="1.35"/><rect x="601.67" y="19.53" width="1.35" height="1.35"/><rect x="606.47" y="19.53" width="1.35" height="1.35"/><rect x="611.27" y="19.53" width="1.35" height="1.35"/><rect x="589.68" y="24.33" width="1.35" height="1.35"/><rect x="594.48" y="24.33" width="1.35" height="1.35"/><rect x="599.27" y="24.33" width="1.35" height="1.35"/><rect x="604.07" y="24.33" width="1.35" height="1.35"/><rect x="608.87" y="24.33" width="1.35" height="1.35"/><rect x="613.67" y="24.33" width="1.35" height="1.35"/><rect x="592.08" y="29.13" width="1.35" height="1.35"/><rect x="596.88" y="29.13" width="1.35" height="1.35"/><rect x="601.67" y="29.13" width="1.35" height="1.35"/><rect x="606.47" y="29.13" width="1.35" height="1.35"/><rect x="611.27" y="29.13" width="1.35" height="1.35"/></g>
<rect x="589.85" y="47.1" width="25.3" height="12.4" fill="#fff" stroke="#0a0a0a" stroke-width="1.4"/>
<text x="630.5" y="32.2" class="lg">SNEA</text>
<text x="630.5" y="59.3" class="lg">AA</text>
<text x="130.0" y="367.1" class="xs">4</text>
<text x="245.8" y="367.5" class="gr">β</text>
<text x="385.6" y="367.5" class="xs">M</text>
<text x="505.6" y="367.5" class="gr">β</text>
<text x="519.0" y="372.2" class="sb">2</text>
<path d="M264.10 359.83L265.80 359.83L265.80 372.00L264.10 372.00L264.10 362.65C263.25 363.67 261.89 364.35 260.87 364.69L260.87 363.16C262.23 362.56 263.42 361.46 264.10 359.83Z" fill="#111"/>
<g transform="translate(116.1 356.4)" fill="none" stroke="#111"><path d="M8.7 4.2C7.9 1.6 6.3 0.6 4.6 0.6C2.2 0.6 0.9 3.2 0.9 6.1C0.9 9.1 2.4 11.2 4.5 11.2C6.6 11.2 8.1 8.9 8.9 6.8" stroke-width="1.45"/><path d="M1.1 3.8C0.6 5.8 0.7 8.2 1.7 9.8" stroke-width="1.1"/><path d="M11.9 0.8C10.7 4.2 9.7 7.8 9.0 9.7C8.8 10.6 9.1 11.3 9.9 11.3C11.0 11.3 11.9 10.8 13.0 9.9" stroke-width="1.6"/></g>
<g transform="translate(371.2 356.5)" fill="none" stroke="#111"><path d="M8.7 4.2C7.9 1.6 6.3 0.6 4.6 0.6C2.2 0.6 0.9 3.2 0.9 6.1C0.9 9.1 2.4 11.2 4.5 11.2C6.6 11.2 8.1 8.9 8.9 6.8" stroke-width="1.45"/><path d="M1.1 3.8C0.6 5.8 0.7 8.2 1.7 9.8" stroke-width="1.1"/><path d="M11.9 0.8C10.7 4.2 9.7 7.8 9.0 9.7C8.8 10.6 9.1 11.3 9.9 11.3C11.0 11.3 11.9 10.8 13.0 9.9" stroke-width="1.6"/></g>
<text transform="translate(16.6 169.3) rotate(-90)" text-anchor="middle" class="yt" style="font-size:19.8px">Gene expression</text>
<text transform="translate(40.5 168.15) rotate(-90)" text-anchor="middle" class="yt" style="font-size:19.8px">(folds over healthy control)</text>
</svg>
</body></html>
